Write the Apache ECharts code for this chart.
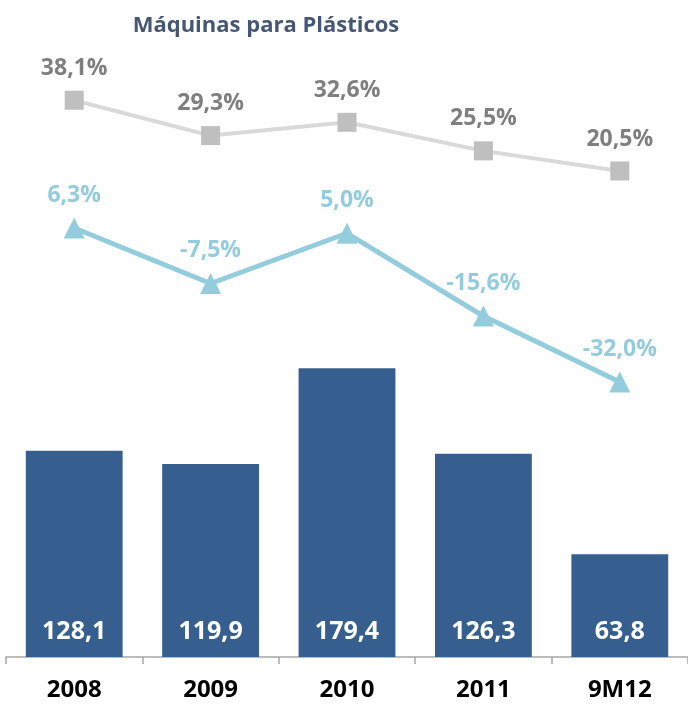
<!DOCTYPE html>
<html><head><meta charset="utf-8">
<script src="https://cdn.jsdelivr.net/npm/echarts@6/dist/echarts.min.js"></script>
<style>html,body{margin:0;padding:0;background:#fff}#c{width:688px;height:706px}</style>
</head><body><div id="c"></div>
<script>
const categories = ['2008', '2009', '2010', '2011', '9M12'];
const barValues = [128.1, 119.9, 179.4, 126.3, 63.8];
const grayValues = [38.1, 29.3, 32.6, 25.5, 20.5];
const blueValues = [6.3, -7.5, 5.0, -15.6, -32.0];

const fmt = v => v.toFixed(1).replace('.', ',');
const FONT = '"Open Sans", sans-serif';

const chart = echarts.init(document.getElementById('c'), null, {renderer: 'canvas'});
chart.setOption({
  animation: false,
  title: {
    text: 'Máquinas para Plásticos',
    left: 261, top: 10, textAlign: 'center',
    textStyle: {fontFamily: FONT, fontSize: 22, fontWeight: 'bold', color: '#465775'}
  },
  grid: {left: 6, right: 0, top: 60, bottom: 49, containLabel: false},
  xAxis: {
    type: 'category', data: categories,
    axisLine: {lineStyle: {color: '#A6A6A6', width: 1.5}},
    axisTick: {show: true, length: 7, lineStyle: {color: '#A6A6A6', width: 1.5}},
    axisLabel: {fontFamily: FONT, fontSize: 24, fontWeight: 'bold', color: '#000', margin: 21}
  },
  yAxis: [
    {type: 'value', min: 0, max: 370.8, show: false, splitLine: {show: false}},
    {type: 'value', min: -100.4, max: 48.1, show: false, splitLine: {show: false}}
  ],
  series: [
    {
      type: 'bar', data: barValues, yAxisIndex: 0, barWidth: '71%',
      itemStyle: {color: '#365F8F'},
      label: {show: true, position: 'insideBottom', distance: 13, formatter: p => fmt(p.value),
        fontFamily: FONT, fontSize: 25, fontWeight: 'bold', color: '#fff'}
    },
    {
      type: 'line', data: grayValues, yAxisIndex: 1,
      symbol: 'rect', symbolSize: 19,
      lineStyle: {color: '#D9D9D9', width: 4},
      itemStyle: {color: '#BFBFBF'},
      label: {show: true, position: 'top', distance: 11, formatter: p => fmt(p.value) + '%',
        fontFamily: FONT, fontSize: 23, fontWeight: 'bold', color: '#7F7F7F'}
    },
    {
      type: 'line', data: blueValues, yAxisIndex: 1,
      symbol: 'triangle', symbolSize: 21,
      lineStyle: {color: '#93CDDD', width: 5},
      itemStyle: {color: '#93CDDD'},
      label: {show: true, position: 'top', distance: 11, formatter: p => fmt(p.value) + '%',
        fontFamily: FONT, fontSize: 23, fontWeight: 'bold', color: '#93CDDD'}
    }
  ]
});
</script></body></html>
